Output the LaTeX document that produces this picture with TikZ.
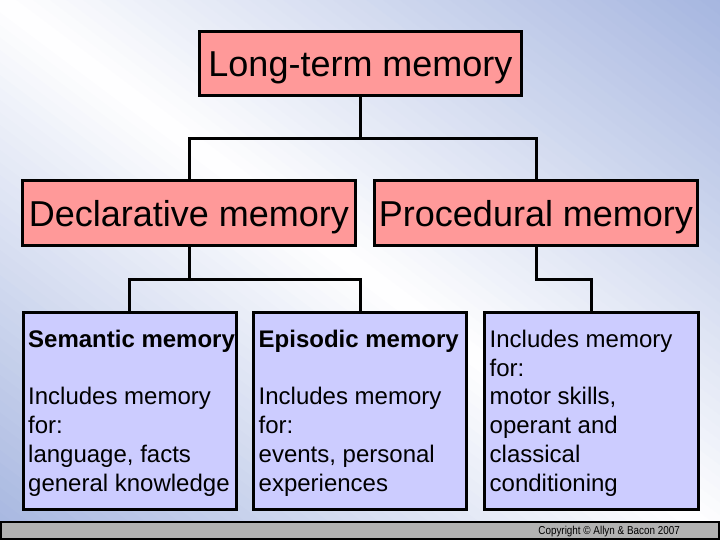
\documentclass[tikz,border=0pt]{standalone}
\usepackage{fontspec}
\setmainfont{Liberation Sans}
\newfontfamily\narrowfont[FakeStretch=0.86]{Liberation Sans}
\definecolor{pinkbox}{RGB}{255,153,153}
\definecolor{lavbox}{RGB}{204,204,255}
\definecolor{bgblue}{RGB}{166,182,224}
\definecolor{bargray}{RGB}{178,178,178}
\tikzset{
  bigbox/.style={draw=black, line width=3pt, fill=pinkbox, inner sep=0pt,
    text height=26pt, text depth=0pt,
    font=\fontsize{36}{43}\selectfont},
  subbox/.style={draw=black, line width=3pt, fill=lavbox, inner sep=0pt},
  boxtext/.style={anchor=north west, inner sep=0pt, align=left,
    font=\fontsize{24}{28.8}\selectfont},
  link/.style={draw=black, line width=3pt},
}
\begin{document}
\begin{tikzpicture}[x=1pt,y=-1pt]
\useasboundingbox (0,0) rectangle (720,540);
\begin{scope}
  \clip (0,0) rectangle (720,540);
  \begin{scope}[shift={(360,270)}, rotate=53.13, x=1pt, y=1pt]
    \foreach \i in {-45,...,44} {
      \pgfmathsetmacro\p{min(100,abs(\i+0.5)*100/43)}
      \fill[bgblue!\p!white] (\i*10,-470) rectangle ({\i*10+10.8},470);
    }
  \end{scope}
\end{scope}

\node[bigbox, minimum width=322pt, minimum height=64pt] (ltm) at (360.5,63.5) {Long-term memory};
\node[bigbox, minimum width=333pt, minimum height=65pt] (decl) at (189,213) {Declarative memory};
\node[bigbox, minimum width=323pt, minimum height=65pt] (proc) at (536,213) {Procedural memory};

\node[subbox, minimum width=213pt, minimum height=197pt] (sem) at (129.5,411) {};
\node[subbox, minimum width=213pt, minimum height=197pt] (epi) at (360,411) {};
\node[subbox, minimum width=214pt, minimum height=197pt] (pro) at (591.5,411) {};

\node[boxtext] (semtext) at ([xshift=6.5pt,yshift=-16pt]sem.north west)
  {\strut\textbf{Semantic memory}\\[28.8pt]Includes memory\\for:\\language, facts\\general knowledge};
\node[boxtext] (epitext) at ([xshift=6.5pt,yshift=-16pt]epi.north west)
  {\strut\textbf{Episodic memory}\\[28.8pt]Includes memory\\for:\\events, personal\\experiences};
\node[boxtext] (protext) at ([xshift=6.5pt,yshift=-16pt]pro.north west)
  {\strut Includes memory\\for:\\motor skills,\\operant and\\classical\\conditioning};

\draw[link] (ltm.south) -- ++(0,42) coordinate (j1) -| (decl.north);
\draw[link] (j1) -| (proc.north);
\draw[link] (decl.south) -- ++(0,32) coordinate (j2) -| (sem.north);
\draw[link] (j2) -| (epi.north);
\draw[link] (proc.south) -- ++(0,32) -| (pro.north);

\node[draw=black, line width=1.5pt, fill=bargray, minimum width=718pt, minimum height=17pt, inner sep=0pt] (bar) at (360,530.5) {};
\node[anchor=east, inner sep=0pt, font=\narrowfont\fontsize{11.5}{13}\selectfont] (copy) at (680,532) {Copyright © Allyn \& Bacon 2007};
\end{tikzpicture}
\end{document}
